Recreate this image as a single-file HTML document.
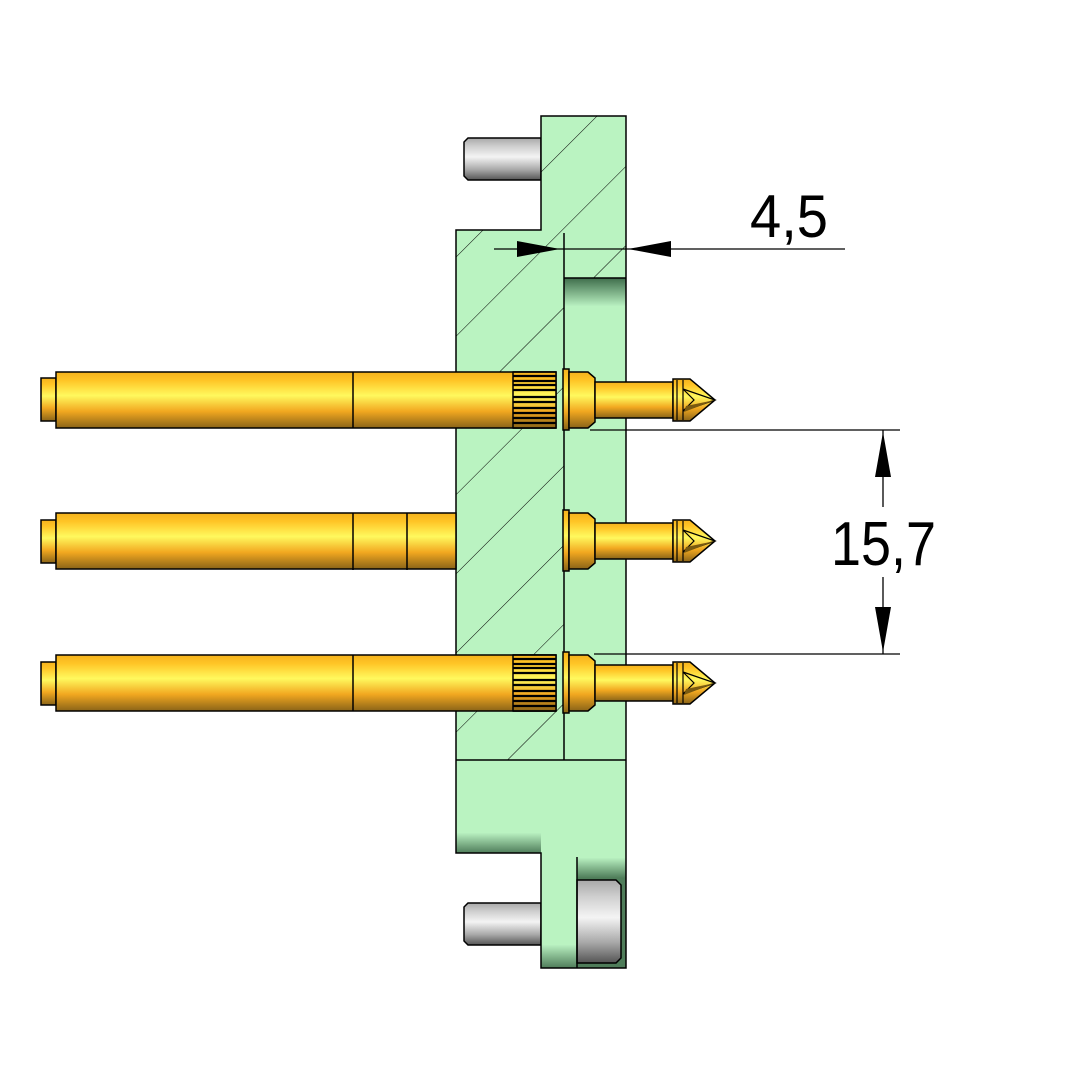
<!DOCTYPE html>
<html><head><meta charset="utf-8"><style>html,body{margin:0;padding:0;background:#fff}svg{display:block}</style></head>
<body>
<svg width="1082" height="1083" viewBox="0 0 1082 1083" xmlns="http://www.w3.org/2000/svg">
<defs>
<linearGradient id="gold" x1="0" y1="0" x2="0" y2="1">
<stop offset="0" stop-color="#f5b21c"/><stop offset="0.15" stop-color="#ffc526"/><stop offset="0.42" stop-color="#fff95e"/><stop offset="0.7" stop-color="#f2a820"/><stop offset="1" stop-color="#8a6418"/>
</linearGradient>
<linearGradient id="gray" x1="0" y1="0" x2="0" y2="1">
<stop offset="0" stop-color="#a8a8a8"/><stop offset="0.2" stop-color="#cfcfcf"/><stop offset="0.45" stop-color="#f4f4f4"/><stop offset="0.75" stop-color="#a9a9a9"/><stop offset="1" stop-color="#555"/>
</linearGradient>
<linearGradient id="gdark" x1="0" y1="0" x2="0" y2="1">
<stop offset="0" stop-color="#3f6d4c"/><stop offset="1" stop-color="#b8f0c0"/>
</linearGradient>
<linearGradient id="gdark2" x1="0" y1="0" x2="0" y2="1">
<stop offset="0" stop-color="#b8f0c0"/><stop offset="1" stop-color="#4f7d5a"/>
</linearGradient>
<pattern id="hatch" patternUnits="userSpaceOnUse" width="56" height="56" patternTransform="rotate(45)">
<line x1="0" y1="0" x2="0" y2="56" stroke="#000" stroke-width="1"/>
</pattern>
<g id="head">
<rect x="563" y="-31" width="6" height="61" fill="url(#gold)" stroke="#000" stroke-width="1.5"/>
<path d="M569,-28 H588 L595,-22 V22 L588,28 H569 Z" fill="url(#gold)" stroke="#000" stroke-width="1.5"/>
<rect x="595" y="-18" width="78" height="36" fill="url(#gold)" stroke="#000" stroke-width="1.5"/>
<path d="M673,-21 H690 L715,0 L690,21 H673 Z" fill="url(#gold)" stroke="#000" stroke-width="1.5"/>
<path d="M677,-20 L677,20 M683,-20 L683,20 M683,-11 L715,0 L683,11 M683,-11 L694,0 L683,11" fill="none" stroke="#000" stroke-width="1.2"/>
<path d="M686,6 L715,0 L684,12 Z" fill="#7a5a10"/>
</g>
<g id="knurl">
<rect x="513" y="-28" width="43" height="56" fill="url(#gold)" stroke="#000" stroke-width="1.5"/>
<path d="M513,-24H556M513,-19H556M513,-15H556M513,-10H556M513,-3H556M513,2H556M513,8H556M513,13H556M513,18H556M513,23H556" stroke="#000" stroke-width="2.2"/>
<path d="M513,-28H556M513,28H556" stroke="#000" stroke-width="1.5"/>
</g>
</defs>

<path d="M468,138 H541 V180 H468 L464,176 V142 Z" fill="url(#gray)" stroke="#000" stroke-width="1.5"/>
<path d="M468,903 H541 V945 H468 L464,941 V907 Z" fill="url(#gray)" stroke="#000" stroke-width="1.5"/>

<path d="M541,116 H626 V968 H541 V853 H456 V230 H541 Z" fill="#baf3c1"/>
<path d="M541,116 H626 V278 H564 V760 H456 V230 H541 Z" fill="url(#hatch)"/>
<rect x="564" y="278" width="62" height="28" fill="url(#gdark)"/>
<rect x="456" y="833" width="85" height="20" fill="url(#gdark2)"/>
<rect x="577" y="858" width="49" height="20" fill="url(#gdark2)"/>
<rect x="541" y="945" width="36" height="23" fill="url(#gdark2)"/>
<rect x="577" y="878" width="49" height="90" fill="#4f7d5a"/>
<path d="M577,880 H616 L621,885 V958 L616,963 H577 Z" fill="url(#gray)" stroke="#000" stroke-width="1.5"/>
<path d="M541,116 H626 V968 H541 V853 H456 V230 H541 Z" fill="none" stroke="#000" stroke-width="1.5"/>
<path d="M564,233 V760 M456,760 H626 M577,857 V968 M564,278 H626" fill="none" stroke="#000" stroke-width="1.5"/>

<rect x="41" y="378" width="15" height="43" fill="url(#gold)" stroke="#000" stroke-width="1.5"/>
<rect x="56" y="372" width="500" height="56" fill="url(#gold)" stroke="#000" stroke-width="1.5"/>
<line x1="353" y1="372" x2="353" y2="428" stroke="#000" stroke-width="1.5"/>
<use href="#knurl" transform="translate(0,400)"/>
<use href="#head" transform="translate(0,400)"/>
<rect x="41" y="520" width="15" height="43" fill="url(#gold)" stroke="#000" stroke-width="1.5"/>
<rect x="56" y="513" width="400" height="56" fill="url(#gold)" stroke="#000" stroke-width="1.5"/>
<path d="M353,513 V570 M407,513 V570" stroke="#000" stroke-width="1.5"/>
<use href="#head" transform="translate(0,541)"/>
<rect x="41" y="662" width="15" height="43" fill="url(#gold)" stroke="#000" stroke-width="1.5"/>
<rect x="56" y="655" width="500" height="56" fill="url(#gold)" stroke="#000" stroke-width="1.5"/>
<line x1="353" y1="655" x2="353" y2="711" stroke="#000" stroke-width="1.5"/>
<use href="#knurl" transform="translate(0,683)"/>
<use href="#head" transform="translate(0,683)"/>

<path d="M494,249 H845" stroke="#000" stroke-width="1.3"/>
<path d="M517,241 L560,249 L517,257 Z M671,241 L628,249 L671,257 Z" fill="#000"/>
<text x="750" y="237" font-family="Liberation Sans, sans-serif" font-size="60" textLength="78" lengthAdjust="spacingAndGlyphs" fill="#000">4,5</text>

<path d="M590,430 H900 M594,654 H900 M883,430 V507 M883,577 V654" stroke="#000" stroke-width="1.3"/>
<path d="M875,477 L883,432 L891,477 Z M875,607 L883,652 L891,607 Z" fill="#000"/>
<text x="831" y="565" font-family="Liberation Sans, sans-serif" font-size="62" textLength="105" lengthAdjust="spacingAndGlyphs" fill="#000">15,7</text>
</svg>
</body></html>
